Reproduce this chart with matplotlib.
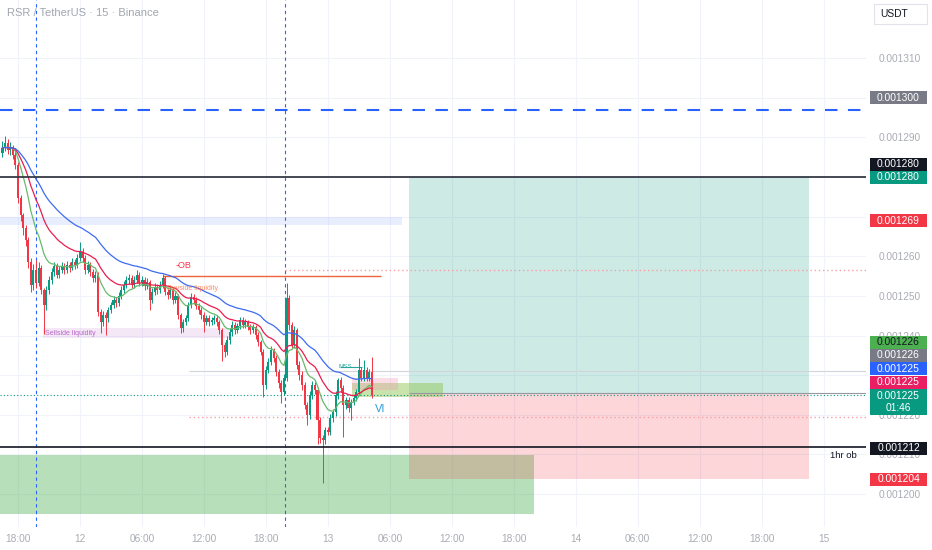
import matplotlib
matplotlib.use("Agg")
import matplotlib.pyplot as plt
from matplotlib.patches import Rectangle
import numpy as np
import pandas as pd

plt.rcParams['font.family'] = ['Liberation Sans', 'DejaVu Sans']

W, H = 932, 550

# 15 minute candles, prices in units of 1e-6 USDT
first_hour = -7.5          # hours relative to day 12 00:00
first_open = 1286.0
closes = [
    1287.4, 1288.6, 1286.9, 1287.6, 1285.6, 1283.1, 1274.7, 1270.4, 1267.2, 1264.1, 1258.6, 1252.8,
    1256.6, 1253.3, 1257.1, 1251.5, 1247.7, 1251.5, 1254.0, 1256.1, 1257.6, 1255.3, 1256.6, 1257.6,
    1256.6, 1257.8, 1257.1, 1258.6, 1257.8, 1259.6, 1261.1, 1259.6, 1256.6, 1257.8, 1256.1, 1254.5,
    1255.3, 1246.0, 1243.4, 1245.2, 1244.4, 1246.5, 1247.7, 1249.0, 1248.2, 1250.0, 1251.5, 1252.8,
    1254.0, 1254.5, 1252.8, 1254.0, 1255.3, 1253.3, 1254.0, 1252.5, 1253.5, 1249.0, 1251.0, 1252.3,
    1251.5, 1252.8, 1254.5, 1251.0, 1250.2, 1251.5, 1249.0, 1250.0, 1245.2, 1241.9, 1243.4, 1244.4,
    1247.7, 1249.7, 1249.0, 1247.5, 1246.5, 1245.2, 1243.4, 1244.4, 1243.4, 1243.9, 1244.4, 1243.4,
    1241.4, 1237.6, 1235.9, 1238.9, 1240.9, 1242.7, 1241.4, 1242.4, 1243.9, 1242.7, 1243.4, 1242.2,
    1241.4, 1242.2, 1240.1, 1238.4, 1235.9, 1227.5, 1231.3, 1233.3, 1236.4, 1234.3, 1230.8, 1228.0,
    1225.8, 1229.3, 1249.5, 1242.7, 1237.6, 1241.4, 1232.6, 1230.0, 1227.5, 1222.5, 1219.9, 1225.0,
    1227.5, 1226.3, 1218.7, 1214.1, 1213.6, 1216.2, 1215.7, 1219.2, 1220.7, 1225.0, 1228.8, 1226.8,
    1222.5, 1223.7, 1221.7, 1223.2, 1224.2, 1225.8, 1231.3, 1229.3, 1231.3, 1229.3, 1230.8, 1225.0,
]
highs = [
    1289.0, 1290.5, 1289.5, 1288.8, 1288.2, 1286.5, 1283.8, 1275.5, 1271.0, 1268.0, 1265.0, 1259.5,
    1258.0, 1259.0, 1258.5, 1257.8, 1252.0, 1252.5, 1255.0, 1257.0, 1258.5, 1258.3, 1257.5, 1258.5,
    1258.3, 1258.8, 1258.5, 1259.5, 1259.3, 1260.5, 1263.7, 1262.0, 1260.3, 1258.8, 1258.5, 1256.8,
    1256.3, 1256.0, 1246.8, 1246.2, 1246.0, 1247.3, 1248.6, 1250.0, 1249.8, 1251.0, 1252.5, 1253.8,
    1255.0, 1255.5, 1255.2, 1255.0, 1256.6, 1256.0, 1255.0, 1254.8, 1254.5, 1254.0, 1252.0, 1253.3,
    1253.0, 1253.8, 1255.5, 1255.0, 1251.8, 1252.5, 1252.0, 1251.0, 1250.6, 1245.8, 1244.3, 1245.3,
    1248.6, 1250.7, 1250.5, 1249.8, 1248.2, 1247.3, 1246.0, 1245.3, 1245.2, 1244.8, 1245.3, 1245.2,
    1244.0, 1242.0, 1238.3, 1239.8, 1241.8, 1243.6, 1243.4, 1243.3, 1244.8, 1244.6, 1244.3, 1244.0,
    1243.0, 1243.0, 1242.8, 1240.8, 1239.0, 1236.5, 1232.3, 1234.3, 1237.5, 1237.0, 1235.0, 1231.5,
    1228.8, 1230.3, 1253.3, 1250.3, 1243.5, 1242.5, 1242.0, 1233.5, 1231.0, 1228.3, 1223.3, 1226.0,
    1228.5, 1228.3, 1227.0, 1219.5, 1215.0, 1217.0, 1217.0, 1220.2, 1221.6, 1226.0, 1229.3, 1229.5,
    1227.5, 1224.6, 1224.4, 1224.0, 1225.0, 1226.6, 1234.3, 1232.2, 1233.8, 1232.0, 1231.6, 1234.5,
]
lows = [
    1285.0, 1286.5, 1285.8, 1285.5, 1284.5, 1282.0, 1273.5, 1269.0, 1265.5, 1262.5, 1257.0, 1251.0,
    1251.5, 1252.0, 1252.5, 1250.5, 1240.5, 1246.5, 1250.5, 1253.0, 1255.0, 1254.5, 1254.5, 1255.8,
    1255.5, 1255.8, 1256.0, 1256.5, 1256.8, 1257.0, 1258.8, 1258.5, 1255.5, 1255.8, 1255.0, 1253.5,
    1253.5, 1245.0, 1240.7, 1242.5, 1240.2, 1243.5, 1245.8, 1247.0, 1247.2, 1247.5, 1249.3, 1250.8,
    1252.0, 1253.0, 1252.0, 1252.0, 1253.2, 1252.5, 1252.6, 1251.5, 1251.8, 1246.5, 1248.2, 1250.3,
    1250.5, 1250.8, 1252.0, 1250.2, 1249.3, 1249.5, 1248.0, 1248.3, 1244.3, 1240.7, 1241.0, 1242.6,
    1243.8, 1247.0, 1248.0, 1246.6, 1245.5, 1244.2, 1240.9, 1242.6, 1242.5, 1242.6, 1243.0, 1242.4,
    1240.5, 1233.5, 1234.5, 1235.0, 1238.0, 1240.0, 1240.5, 1240.6, 1241.6, 1241.8, 1241.8, 1241.3,
    1240.5, 1240.6, 1239.2, 1237.5, 1235.0, 1224.5, 1226.5, 1230.5, 1232.5, 1233.3, 1229.8, 1226.8,
    1223.0, 1225.0, 1228.5, 1241.5, 1236.5, 1236.8, 1231.5, 1228.8, 1226.3, 1221.5, 1217.5, 1219.0,
    1224.0, 1225.3, 1212.6, 1213.0, 1202.8, 1212.6, 1214.8, 1214.8, 1218.3, 1219.8, 1224.0, 1225.8,
    1214.4, 1221.5, 1220.8, 1218.7, 1222.4, 1223.5, 1225.0, 1228.5, 1228.5, 1228.5, 1228.5, 1224.2,
]

# drawn levels / zones (1e-6 USDT), times in hours from day 12 00:00
blue_dash_level = 1296.9
target_level = 1280.0
hour_ob_level = 1211.8
entry_level = 1225.6
stop_level = 1203.8
ob_level = 1255.0
buyside_dotted = 1256.5
last_price = 1225.0
pink_dotted = 1219.4
gray_level = 1231.0
hour_ob_zone = (1195.0, 1209.8)
blue_zone = (1267.9, 1269.9)
sellside_zone = (1239.4, 1241.9)
fvg_zone = (1224.5, 1228.0)
pink_zone = (1226.2, 1229.3)
session_marks = [-4.26, 19.85]

tick_hours = [-6, 0, 6, 12, 18, 24, 30, 36, 42, 48, 54, 60, 66, 72]
tick_labels = ['18:00', '12', '06:00', '12:00', '18:00', '13', '06:00', '12:00',
               '18:00', '14', '06:00', '12:00', '18:00', '15']
price_ticks = list(range(1200, 1320, 10))
hidden_ticks = [1230, 1270, 1280, 1300]   # covered by the price tags

green, red = '#089981', '#f23645'

c = np.array(closes)
o = np.concatenate([[first_open], c[:-1]])
hi = np.array(highs)
lo = np.array(lows)
t = first_hour + 0.25 * np.arange(len(c))

fig = plt.figure(figsize=(W / 100, H / 100), dpi=100)
fig.patch.set_facecolor('white')
ax = fig.add_axes([0, 23 / H, 866 / W, 527 / H])
ax.set_xlim(-7.74, 76.1)
ax.set_ylim(1191.7, 1324.7)
for s in ax.spines.values():
    s.set_visible(False)

ax.set_xticks(tick_hours)
ax.set_xticklabels(tick_labels)
ax.set_yticks(price_ticks)
ax.set_yticklabels(['' if p in hidden_ticks else '0.00%d' % p for p in price_ticks])
ax.yaxis.tick_right()
ax.tick_params(axis='both', length=0, colors='#a9acb4', labelsize=7.3)
ax.tick_params(axis='y', pad=9)
ax.tick_params(axis='x', pad=5)
ax.grid(True, color='#f0f3fa', lw=0.8)
ax.set_axisbelow(True)

# zones
ax.add_patch(Rectangle((-7.74, hour_ob_zone[0]), 43.95 + 7.74, hour_ob_zone[1] - hour_ob_zone[0],
                       facecolor='#4caf50', alpha=0.4, lw=0, zorder=1))
ax.add_patch(Rectangle((-7.74, blue_zone[0]), 31.2 + 7.74, blue_zone[1] - blue_zone[0],
                       facecolor='#2962ff', alpha=0.1, lw=0, zorder=1))
ax.add_patch(Rectangle((-3.6, sellside_zone[0]), 18.1, sellside_zone[1] - sellside_zone[0],
                       facecolor='#9c27b0', alpha=0.1, lw=0, zorder=1))
# long position tool
ax.add_patch(Rectangle((31.9, entry_level), 38.7, target_level - entry_level,
                       facecolor=green, alpha=0.2, lw=0, zorder=1))
ax.add_patch(Rectangle((31.9, stop_level), 38.7, entry_level - stop_level,
                       facecolor=red, alpha=0.2, lw=0, zorder=1))
ax.hlines(entry_level, 31.9, 76.1, color='#9598a1', lw=0.8, zorder=2)
# fvg boxes
ax.add_patch(Rectangle((26.3, fvg_zone[0]), 8.8, fvg_zone[1] - fvg_zone[0],
                       facecolor='#8bc34a', alpha=0.45, lw=0, zorder=1))
ax.add_patch(Rectangle((26.3, pink_zone[0]), 4.5, pink_zone[1] - pink_zone[0],
                       facecolor='#f48fb1', alpha=0.3, lw=0, zorder=1))

# lines
for sm in session_marks:
    ax.axvline(sm, color='#2962ff', lw=0.8, ls=(0, (3, 3)), zorder=2)
ax.axhline(blue_dash_level, color='#2962ff', lw=1.5, ls=(0, (6, 5)), zorder=2)
ax.axhline(target_level, color='#363a45', lw=1.3, zorder=4)
ax.axhline(hour_ob_level, color='#131722', lw=1.2, zorder=4)
ax.hlines(ob_level, 8.03, 29.1, color='#f0643c', lw=1, zorder=2)
ax.hlines(buyside_dotted, 19.85, 76.1, color='#f7a0a8', lw=1, ls=(0, (1, 2)), zorder=2)
ax.hlines(pink_dotted, 10.6, 76.1, color='#f7a0a8', lw=1, ls=(0, (1, 2)), zorder=2)
ax.axhline(last_price, color=green, lw=0.8, ls=(0, (1, 2)), zorder=2)
ax.hlines(gray_level, 10.6, 76.1, color='#d1d4dc', lw=0.8, zorder=1)
ax.hlines(gray_level + 1, 25.2, 27.3, color='#26a69a', lw=0.8, zorder=2)

# candles
up = c >= o
cols = np.where(up, green, red)
ax.vlines(t, lo, hi, colors=cols, lw=0.7, zorder=3)
body_lo = np.minimum(o, c)
body_h = np.maximum(np.abs(c - o), 0.25)
ax.bar(t, body_h, bottom=body_lo, width=0.2, color=cols, lw=0, zorder=3)

# moving averages
cs = pd.Series(c)
ax.plot(t, cs.ewm(span=12, adjust=False).mean(), color='#66bb6a', lw=0.9, zorder=3)
ax.plot(t, cs.ewm(span=24, adjust=False).mean(), color='#e91e4f', lw=0.9, zorder=3)
ax.plot(t, cs.ewm(span=45, adjust=False).mean(), color='#3d6cf0', lw=0.9, zorder=3)

# labels on chart
ax.text(10.0, 1257.8, '-OB', color='#f23645', fontsize=6.5, ha='center', va='center', zorder=5)
ax.text(8.4, 1251.9, 'Buyside liquidity', color='#ff7043', fontsize=5, alpha=0.8, va='center', zorder=5)
ax.text(-3.4, 1240.6, 'Sellside liquidity', color='#ab47bc', fontsize=5, alpha=0.8, va='center', zorder=5)
ax.text(25.7, 1232.3, 'MSS', color='#26a69a', fontsize=4.5, ha='center', va='center', zorder=5)
ax.text(28.6, 1221.5, 'VI', color='#2a9fd6', fontsize=8, va='center', zorder=5)
ax.text(72.6, 1209.7, '1hr ob', color='#131722', fontsize=6.8, va='center', zorder=5)

fig.text(7 / W, 1 - 13 / H, 'RSR / TetherUS \u00b7 15 \u00b7 Binance', color='#a3a6af',
         fontsize=8, va='center', ha='left')


def tag(ypx, label, bg, fg='white', h=13):
    fig.patches.append(Rectangle((870 / W, 1 - (ypx + h / 2) / H), 57 / W, h / H,
                                 transform=fig.transFigure, facecolor=bg, lw=0, zorder=5))
    fig.text(898.5 / W, 1 - ypx / H, label, color=fg, fontsize=7.4, ha='center', va='center',
             zorder=6, linespacing=1.25)


tag(98, '0.001300', '#787b86')
tag(164, '0.001280', '#131722')
tag(177.5, '0.001280', green)
tag(221, '0.001269', red)
tag(342, '0.001226', '#4caf50', fg='#131722')
tag(355.5, '0.001226', '#787b86')
tag(368.5, '0.001225', '#2962ff')
tag(382, '0.001225', '#e91e63')
tag(402, '0.001225\n01:46', green, h=26)
tag(448, '0.001212', '#131722')
tag(479, '0.001204', red)

fig.patches.append(Rectangle((874 / W, 1 - 24 / H), 53 / W, 20 / H, transform=fig.transFigure,
                             facecolor='white', edgecolor='#e0e3eb', lw=0.8, zorder=5))
fig.text(880 / W, 1 - 14 / H, 'USDT', color='#131722', fontsize=7.4, va='center', zorder=6)

fig.savefig('out.png', dpi=100)
